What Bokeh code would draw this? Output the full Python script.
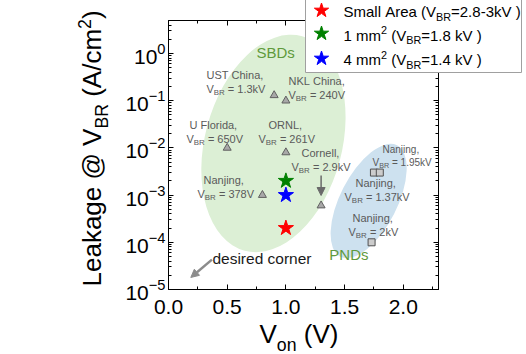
import math
from bokeh.plotting import figure
from bokeh.core.properties import value
from bokeh.models import (Arrow, NormalHead, LinearAxis, LogAxis, SingleIntervalTicker, LogTicker,
                          PrintfTickFormatter, LogTickFormatter)
from bokeh.embed import file_html
from bokeh.resources import INLINE

# ---------------- data ----------------
sbd_names = ["UST China,", "NKL China,", "U Florida,", "ORNL,", "Nanjing,", "Cornell,"]
sbd_vbr = ["1.3kV", "240V", "650V", "261V", "378V", "2.9kV"]
sbd_von = [0.9, 1.0, 0.5, 1.0, 0.8, 1.3]
sbd_leak = [0.13, 0.1, 0.01, 0.008, 0.001, 6e-4]

pnd_names = ["Nanjing,", "Nanjing,", "Nanjing,"]
pnd_vbr = ["1.37kV", "1.95kV", "2kV"]
pnd_von = [1.75, 1.80, 1.73]
pnd_leak = [3e-3, 3e-3, 1e-4]

this_von = [1.0, 1.0, 1.0]
this_leak = [2e-4, 2e-3, 1e-3]
this_colors = ["#ff0000", "#008000", "#0000ff"]
this_labels = [
    [("Small Area (V", "n"), ("BR", "sub"), ("=2.8-3kV )", "n")],
    [("1 mm", "n"), ("2", "sup"), (" (V", "n"), ("BR", "sub"), ("=1.8 kV )", "n")],
    [("4 mm", "n"), ("2", "sup"), (" (V", "n"), ("BR", "sub"), ("=1.4 kV )", "n")],
]

region_names = ["SBDs", "PNDs"]
region_von = [0.894, 1.705]
region_leak = [0.0124, 7.5e-4]

x_range = (0.0, 2.3)
y_range = (1e-5, 5.0)

x_title = [("V", "n"), ("on", "sub"), (" (V)", "n")]
y_title = [("Leakage @ V", "n"), ("BR", "sub"), (" (A/cm", "n"), ("2", "sup"), (")", "n")]

corner_text = "desired corner"
corner_arrow = [(0.37, 4.3e-5), (0.19, 1.8e-5)]
cornell_arrow = [(1.3, 2.6e-3), (1.3, 9.8e-4)]

# ---------------- layout / style ----------------
W, H = 526, 354
FL, FR, FT, FB = 168, 438, 20, 289
FONT = "Liberation Sans"
NOTE_COLOR = "#5a5a5a"
BASE_FIX = 0.35   # compensation for the glyph's alphabetic baseline placement
region_fill = ["#dcefd5", "#cde1ef"]
region_w = [137, 57]      # px
region_h = [222, 125]     # px
region_angle = [-15.0, -27.0]  # deg
region_text_off = [(-17, -85.6), (-39.3, 58.5)]
region_text_color = "#5f9a3c"

sbd_note_off = [(-67.7, -16.3, -67.7, -2.8), (2.6, -15.9, 2.6, -2.2), (-37.7, -19.4, -40.7, -5.4),
                (-17.4, -23.9, -27.4, -9.9), (-58.9, -11.6, -64.9, 2.4), (-19.6, -49, -29.6, -35)]
sbd_note_size = [11, 11, 11, 11, 11, 11]
pnd_note_off = [(-18.4, 14, -29.4, 28), (2.7, -19.4, -7.3, -6.4), (-19.1, -20.7, -23.1, -6.7)]
pnd_note_size = [11, 10, 11]

LEG_BOX = (305, 521, -1, 72)   # left, right, top, bottom (px)
LEG_STAR_X = 321
LEG_TEXT_X = 343
LEG_ROW_BASE = [16.5, 40, 64.5]
LEG_STAR_Y = [10, 33, 58]

AW = {' ': 278, '\u00a0': 278, '(': 333, ')': 333, ',': 278, '-': 333, '.': 278, '/': 278,
      '=': 584, '@': 1015, 'A': 667, 'B': 667, 'C': 722, 'D': 722, 'F': 611, 'K': 667, 'L': 556,
      'N': 722, 'O': 778, 'P': 667, 'R': 722, 'S': 667, 'T': 611, 'U': 722, 'V': 667, 'a': 556,
      'c': 500, 'd': 556, 'e': 556, 'g': 556, 'h': 556, 'i': 222, 'j': 222, 'k': 500, 'l': 222,
      'm': 833, 'n': 556, 'o': 556, 'r': 333, 's': 500, '\u2212': 584}


def tw(s, size):
    return sum(AW.get(c, 556) for c in s) / 1000.0 * size


def px_to_x(px):
    return x_range[0] + (px - FL) / (FR - FL) * (x_range[1] - x_range[0])


def py_to_y(py):
    ly0, ly1 = math.log10(y_range[0]), math.log10(y_range[1])
    return 10 ** (ly1 - (py - FT) / (FB - FT) * (ly1 - ly0))


p = figure(width=W, height=H, x_range=x_range, y_range=y_range, y_axis_type="log",
           output_backend="svg", toolbar_location=None,
           min_border_left=FL, min_border_right=W - FR, min_border_top=FT, min_border_bottom=H - FB)
p.outline_line_color = None
p.grid.visible = False
p.background_fill_color = "white"
p.border_fill_color = "white"


def style_axis(ax):
    ax.axis_line_color = "black"
    ax.axis_line_width = 1
    ax.major_tick_line_color = "black"
    ax.minor_tick_line_color = "black"
    ax.major_tick_in = 5
    ax.major_tick_out = 0
    ax.minor_tick_in = 3
    ax.minor_tick_out = 0


xa = p.xaxis[0]
xa.ticker = SingleIntervalTicker(interval=0.5, num_minor_ticks=2)
xa.formatter = PrintfTickFormatter(format="%.1f")
xa.major_label_text_font = FONT
xa.major_label_text_font_size = "21px"
xa.major_label_text_color = "black"
xa.major_label_standoff = 10
style_axis(xa)

ya = p.yaxis[0]
ya.ticker = LogTicker(num_minor_ticks=10)
ya.formatter = LogTickFormatter()
ya.major_label_text_font = FONT
ya.major_label_text_font_size = "21px"
ya.major_label_text_color = "black"
ya.major_label_standoff = 3
style_axis(ya)

ra = LogAxis(ticker=LogTicker(num_minor_ticks=10), major_label_text_color=None,
             major_label_text_font_size="6px")
style_axis(ra)
p.add_layout(ra, "right")
ta = LinearAxis(ticker=SingleIntervalTicker(interval=0.5, num_minor_ticks=2),
                formatter=PrintfTickFormatter(format="%.1f"),
                major_label_text_color=None, major_label_text_font_size="6px", major_label_standoff=0)
style_axis(ta)
p.add_layout(ta, "above")

# regions
for i in range(len(region_names)):
    p.ellipse(x=[region_von[i]], y=[region_leak[i]], width=[region_w[i]], height=[region_h[i]],
              width_units="screen", height_units="screen", angle=math.radians(region_angle[i]),
              fill_color=region_fill[i], line_color=None)

# markers
p.scatter(sbd_von, sbd_leak, marker="triangle", size=8, fill_color="#a8a8a8",
          line_color="#606060", line_width=1)
p.scatter(pnd_von, pnd_leak, marker="square", size=7, fill_color="#cccccc",
          line_color="#505050", line_width=1)
p.scatter(this_von, this_leak, marker="star", size=16, fill_color=this_colors,
          line_color=this_colors)


def rich(x, y, parts, size, color, dx, dy, angle=0.0, sub_scale=0.72,
         sub_shift=0.22, sup_shift=0.42, level="overlay"):
    """Draw a run of text pieces (normal/sub/sup) starting at data (x, y) + pixel offset.
    (dx, dy) is the baseline start in screen px (dy positive downward)."""
    pos = 0.0
    for txt, mode in parts:
        txt = txt.replace(" ", "\u00a0")
        fs = size if mode == "n" else size * sub_scale
        sh = 0.0 if mode == "n" else (size * sub_shift if mode == "sub" else -size * sup_shift)
        sh -= BASE_FIX * fs
        if angle == 0:
            ox, oy = dx + pos, dy + sh
        else:
            ox, oy = dx + sh, dy - pos
        p.text(x=[x], y=[y], text=[txt], x_offset=ox, y_offset=oy, angle=angle,
               text_font=value(FONT), text_font_size=value(f"{fs:.1f}px"), text_color=color,
               text_align="left", text_baseline="alphabetic", level=level)
        pos += tw(txt, fs)


# notes
for i in range(len(sbd_names)):
    d1x, d1y, d2x, d2y = sbd_note_off[i]
    fs = sbd_note_size[i]
    rich(sbd_von[i], sbd_leak[i], [(sbd_names[i], "n")], fs, NOTE_COLOR, d1x, d1y, level="glyph")
    rich(sbd_von[i], sbd_leak[i], [("V", "n"), ("BR", "sub"), (" = " + sbd_vbr[i], "n")],
         fs, NOTE_COLOR, d2x, d2y, level="glyph")
for i in range(len(pnd_names)):
    d1x, d1y, d2x, d2y = pnd_note_off[i]
    fs = pnd_note_size[i]
    rich(pnd_von[i], pnd_leak[i], [(pnd_names[i], "n")], fs, NOTE_COLOR, d1x, d1y, level="glyph")
    rich(pnd_von[i], pnd_leak[i], [("V", "n"), ("BR", "sub"), (" = " + pnd_vbr[i], "n")],
         fs, NOTE_COLOR, d2x, d2y, level="glyph")

for i in range(len(region_names)):
    rich(region_von[i], region_leak[i], [(region_names[i], "n")], 15, region_text_color,
         region_text_off[i][0], region_text_off[i][1], level="glyph")

# arrows
(cx0, cy0), (cx1, cy1) = corner_arrow
p.add_layout(Arrow(x_start=cx0, y_start=cy0, x_end=cx1, y_end=cy1, line_color="#8c8c8c",
                   line_width=2.5, end=NormalHead(size=8, fill_color="#8c8c8c", line_color="#8c8c8c")))
rich(cx0, cy0, [(corner_text, "n")], 15.5, "#1a1a1a", 0.5, 4.0, level="glyph")
(ax0, ay0), (ax1, ay1) = cornell_arrow
p.add_layout(Arrow(x_start=ax0, y_start=ay0, x_end=ax1, y_end=ay1, line_color="#6a6a6a",
                   line_width=1.5, end=NormalHead(size=8, fill_color="#6a6a6a", line_color="#6a6a6a")))

# axis titles (outside the frame, overlay level)
rich(x_range[0], y_range[0], x_title, 26, "black", 91, 54, sub_scale=0.68, sub_shift=0.3)
rich(x_range[0], y_range[0], y_title, 26, "black", -67, -3, angle=math.pi / 2,
     sub_scale=0.68, sub_shift=0.25)

# legend
bl, br, bt, bb = LEG_BOX
p.quad(left=[px_to_x(bl)], right=[px_to_x(br)], top=[py_to_y(bt)], bottom=[py_to_y(bb)],
       fill_color="white", line_color="#a0a0a0", line_width=1, level="overlay")
p.scatter([px_to_x(LEG_STAR_X)] * 3, [py_to_y(v) for v in LEG_STAR_Y], marker="star", size=15,
          fill_color=this_colors, line_color=this_colors, level="overlay")
for k in range(len(this_labels)):
    rich(px_to_x(LEG_TEXT_X), py_to_y(LEG_ROW_BASE[k]), this_labels[k], 15, "black", 0, 0)

open("out.html", "w").write(file_html(p, INLINE))
